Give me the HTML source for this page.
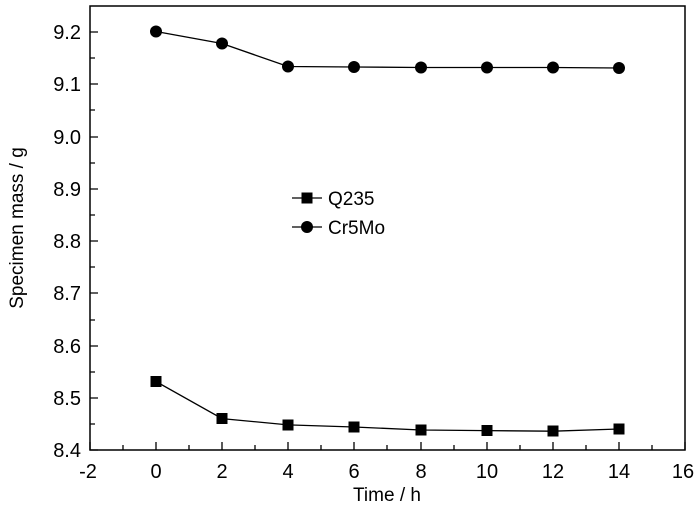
<!DOCTYPE html>
<html><head><style>body{margin:0;background:#fff}</style></head><body>
<svg width="700" height="508" xmlns="http://www.w3.org/2000/svg" font-family="Liberation Sans, Arial, sans-serif">
<rect x="90" y="6" width="595" height="444" fill="none" stroke="#000" stroke-width="1.5"/>
<g stroke="#000" stroke-width="1.3">
<path d="M90 450v-8M123 450v-5M156 450v-8M189 450v-5M222 450v-8M255 450v-5M288 450v-8M321 450v-5M354 450v-8M387 450v-5M421 450v-8M454 450v-5M487 450v-8M520 450v-5M553 450v-8M586 450v-5M619 450v-8M652 450v-5M685 450v-8"/>
<path d="M90 450h8M90 424h5M90 398h8M90 372h5M90 346h8M90 320h5M90 293h8M90 267h5M90 241h8M90 215h5M90 189h8M90 163h5M90 137h8M90 110h5M90 84h8M90 58h5M90 32h8"/>
</g>
<g font-size="20" text-anchor="end" fill="#000">
<text x="81" y="457">8.4</text><text x="81" y="405">8.5</text><text x="81" y="353">8.6</text><text x="81" y="300">8.7</text><text x="81" y="248">8.8</text><text x="81" y="196">8.9</text><text x="81" y="144">9.0</text><text x="81" y="91">9.1</text><text x="81" y="39">9.2</text>
</g>
<g font-size="20" text-anchor="middle" fill="#000">
<text x="88" y="478">-2</text><text x="156" y="478">0</text><text x="222" y="478">2</text><text x="288" y="478">4</text><text x="354" y="478">6</text><text x="421" y="478">8</text><text x="487" y="478">10</text><text x="553" y="478">12</text><text x="619" y="478">14</text><text x="683" y="478">16</text>
<text x="387" y="501" font-size="19">Time / h</text>
<text transform="translate(23,228) rotate(-90)" font-size="19">Specimen mass / g</text>
</g>
<polyline fill="none" stroke="#000" stroke-width="1.3" points="156,31.5 222,43.5 288,66.5 354,67 421,67.5 487,67.5 553,67.5 619,68"/>
<g fill="#000">
<circle cx="156" cy="31.5" r="6"/><circle cx="222" cy="43.5" r="6"/><circle cx="288" cy="66.5" r="6"/><circle cx="354" cy="67" r="6"/><circle cx="421" cy="67.5" r="6"/><circle cx="487" cy="67.5" r="6"/><circle cx="553" cy="67.5" r="6"/><circle cx="619" cy="68" r="6"/>
</g>
<polyline fill="none" stroke="#000" stroke-width="1.3" points="156,381.5 222,418.6 288,424.9 354,427 421,430 487,430.6 553,431.2 619,429"/>
<g fill="#000">
<rect x="150.5" y="376" width="11" height="11"/><rect x="216.5" y="413" width="11" height="11"/><rect x="282.5" y="419.5" width="11" height="11"/><rect x="348.5" y="421.5" width="11" height="11"/><rect x="415.5" y="424.5" width="11" height="11"/><rect x="481.5" y="425" width="11" height="11"/><rect x="547.5" y="425.5" width="11" height="11"/><rect x="613.5" y="423.5" width="11" height="11"/>
</g>
<g stroke="#000" stroke-width="1.3"><path d="M292 198h30M292 227h30"/></g>
<rect x="301.5" y="192.5" width="11" height="11" fill="#000"/>
<circle cx="307" cy="227" r="6" fill="#000"/>
<text x="328" y="205" font-size="19">Q235</text>
<text x="328" y="234" font-size="19">Cr5Mo</text>
</svg>
</body></html>
